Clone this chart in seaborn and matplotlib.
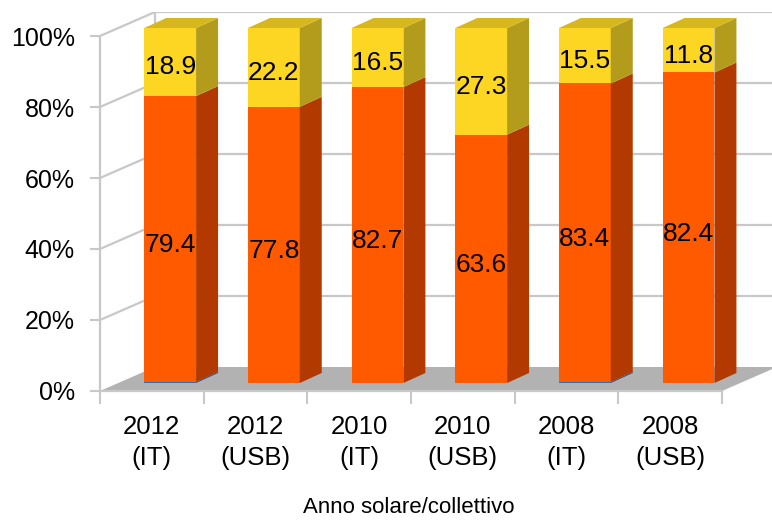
"""
Stacked 100% bar chart (Excel-style fake 3D) of the share per year/collective.
"""

import pandas as pd
import matplotlib
matplotlib.use("Agg")
import matplotlib.pyplot as plt
import seaborn as sns

# ---------------------------------------------------------
# Data
# ---------------------------------------------------------
categories = ["2012\n(IT)", "2012\n(USB)", "2010\n(IT)", "2010\n(USB)", "2008\n(IT)", "2008\n(USB)"]
blue_vals = [0.3, 0.0, 0.0, 0.0, 0.3, 0.0]
orange_vals = [79.4, 77.8, 82.7, 63.6, 83.4, 82.4]
yellow_vals = [18.9, 22.2, 16.5, 27.3, 15.5, 11.8]
y_ticks = [0, 20, 40, 60, 80, 100]
x_title = "Anno solare/collettivo"

# colours: front face / side face
BLUE, BLUE_SIDE = "#2f6eba", "#1f4f8a"
ORANGE, ORANGE_SIDE = "#ff5a00", "#b23a00"
YELLOW, YELLOW_SIDE, YELLOW_TOP = "#fdd624", "#b39b1c", "#d6b81e"
GRID = "#c8c8c8"
FLOOR = "#b2b2b2"

# normalise to 100% like the chart does
df = pd.DataFrame({"cat": categories, "blue": blue_vals,
                   "orange": orange_vals, "yellow": yellow_vals})
total = df["blue"] + df["orange"] + df["yellow"]
df["top_blue"] = df["blue"] / total * 100
df["top_orange"] = (df["blue"] + df["orange"]) / total * 100
df["top_yellow"] = 100.0

sns.set_style("white")
plt.rcParams["font.family"] = ["Liberation Sans", "DejaVu Sans"]
plt.rcParams["text.color"] = "black"
plt.rcParams["xtick.labelcolor"] = "black"
plt.rcParams["ytick.labelcolor"] = "black"
plt.rcParams["axes.labelcolor"] = "black"

fig = plt.figure(figsize=(7.72, 5.2), dpi=100)
ax = fig.add_axes([0.1295, 0.2481, 0.8705, 0.7288])

# depth of the fake 3d box in data units
DX, DY = 0.53, 6.76    # full floor depth
FX, FY = 0.177, 2.25   # front edge of floor -> front face of bars
BX, BY = 0.212, 2.82   # depth of one bar
W = 0.5
n = len(categories)

x_front = -0.5 - FX
x_back = x_front + DX
x_front_r = n - 0.5 - FX

# back wall + side wall gridlines
for v in y_ticks[1:]:
    ax.plot([x_back, n + 1], [v - FY + DY] * 2, color=GRID, lw=1.6, zorder=1)
    ax.plot([x_front, x_back], [v - FY, v - FY + DY], color=GRID, lw=1.6, zorder=1)
ax.plot([x_back, x_back], [-FY + DY, 100 - FY + DY], color=GRID, lw=1.6, zorder=1)

# floor
ax.fill([x_front, x_front_r, x_front_r + DX, x_back],
        [-FY, -FY, -FY + DY, -FY + DY], color=FLOOR, lw=0, zorder=2)

# front faces of the bars (tallest first, then overlap)
for col, face in [("top_yellow", YELLOW), ("top_orange", ORANGE), ("top_blue", BLUE)]:
    sns.barplot(data=df, x="cat", y=col, color=face, width=W, linewidth=0,
                saturation=1, ax=ax, zorder=4)

# side and top faces
for i, row in df.iterrows():
    xl, xr = i - W / 2, i + W / 2
    segs = [(0, row["top_blue"], BLUE_SIDE),
            (row["top_blue"], row["top_orange"], ORANGE_SIDE),
            (row["top_orange"], 100, YELLOW_SIDE)]
    for lo, hi, c in segs:
        if hi - lo <= 0:
            continue
        ax.fill([xr, xr + BX, xr + BX, xr], [lo, lo + BY, hi + BY, hi],
                color=c, lw=0, zorder=4)
    ax.fill([xl, xl + BX, xr + BX, xr], [100, 100 + BY, 100 + BY, 100],
            color=YELLOW_TOP, lw=0, zorder=4)
    # value labels (Excel puts them a touch below the middle)
    ax.text(i, (row["top_blue"] + row["top_orange"]) / 2 - 1.8, f"{row['orange']:.1f}",
            ha="center", va="center", fontsize=19, zorder=5)
    ax.text(i, (row["top_orange"] + 100) / 2 - 1.5, f"{row['yellow']:.1f}",
            ha="center", va="center", fontsize=19, zorder=5)

# axes limits / ticks
ax.set_xlim(x_front, x_front + 672 / 103.67)
ax.set_ylim(-FY, -FY + 379 / 3.55)
ax.set_yticks([v - FY for v in y_ticks])
ax.set_yticklabels([f"{v}%" for v in y_ticks])
ax.set_xticks([x_front + k for k in range(n + 1)])
ax.set_xticklabels([""] * (n + 1))
ax.set_xticks([i - FX for i in range(n)], minor=True)
ax.set_xticklabels(categories, minor=True, linespacing=1.38)
ax.tick_params(axis="x", which="minor", bottom=True, length=0, pad=17, labelsize=18.5)
ax.tick_params(axis="x", which="major", bottom=True, length=9, color=GRID, width=1.5)
ax.tick_params(axis="y", left=True, length=7, color=GRID, width=1.5, pad=11, labelsize=18)

for side in ["top", "right"]:
    ax.spines[side].set_visible(False)
ax.spines["left"].set_bounds(-FY, 100 - FY)
ax.spines["bottom"].set_bounds(x_front, x_front_r)
for side in ["left", "bottom"]:
    ax.spines[side].set_color(GRID)
    ax.spines[side].set_linewidth(1.6)

ax.set_ylabel("")
ax.set_xlabel(x_title, fontsize=16)
ax.xaxis.set_label_coords(0.46, -0.28)

fig.savefig("out.png", dpi=100)
plt.close(fig)
